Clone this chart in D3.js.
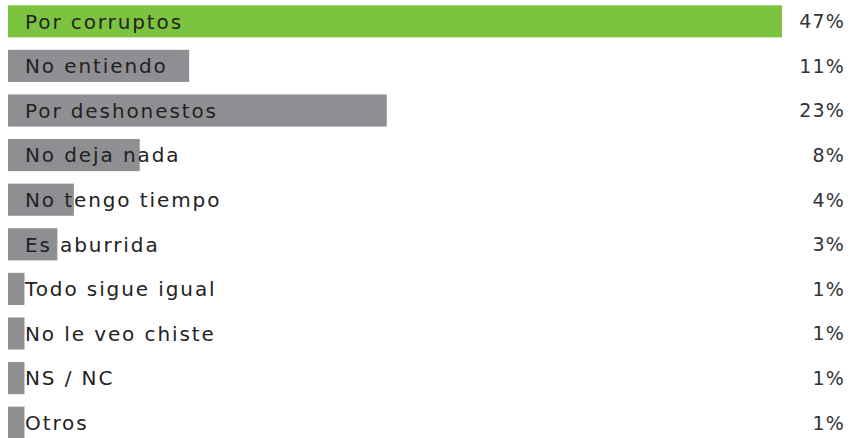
<!DOCTYPE html>
<html>
<head>
<meta charset="utf-8">
<script src="https://cdn.jsdelivr.net/npm/d3@7"></script>
<style>
  html, body { margin: 0; padding: 0; background: #ffffff; }
  svg { display: block; }
  text { font-family: "DejaVu Sans", sans-serif; }
</style>
</head>
<body>
<svg id="chart" width="857" height="438"></svg>
<script>
// Respuestas y porcentajes
const categories = ["Por corruptos", "No entiendo", "Por deshonestos", "No deja nada", "No tengo tiempo",
                    "Es aburrida", "Todo sigue igual", "No le veo chiste", "NS / NC", "Otros"];
const values = [47, 11, 23, 8, 4, 3, 1, 1, 1, 1];
const highlight = ["Por corruptos"];

const width = 857, height = 438;
const svg = d3.select("#chart");

const x = d3.scaleLinear().domain([0, 47]).range([8, 782]);
const y = d3.scaleBand().domain(categories).range([-1, 445]).paddingInner(0.28).paddingOuter(0.14);

const rows = svg.selectAll("g.row").data(categories).join("g").attr("class", "row");

rows.append("rect")
  .attr("x", x(0))
  .attr("y", d => y(d))
  .attr("width", (d, i) => x(values[i]) - x(0))
  .attr("height", y.bandwidth())
  .attr("fill", d => highlight.includes(d) ? "#7cc440" : "#8f8f93");

rows.append("text")
  .attr("x", 25)
  .attr("y", d => y(d) + y.bandwidth() / 2)
  .attr("dy", "0.36em")
  .attr("fill", "#222")
  .style("font-size", "20px")
  .style("letter-spacing", "1.9px")
  .text(d => d);

rows.append("text")
  .attr("x", 845)
  .attr("y", d => y(d) + y.bandwidth() / 2)
  .attr("dy", "0.36em")
  .attr("text-anchor", "end")
  .attr("fill", "#333")
  .style("font-size", "19px")
  .style("letter-spacing", "1.2px")
  .text((d, i) => values[i] + "%");
</script>
</body>
</html>
